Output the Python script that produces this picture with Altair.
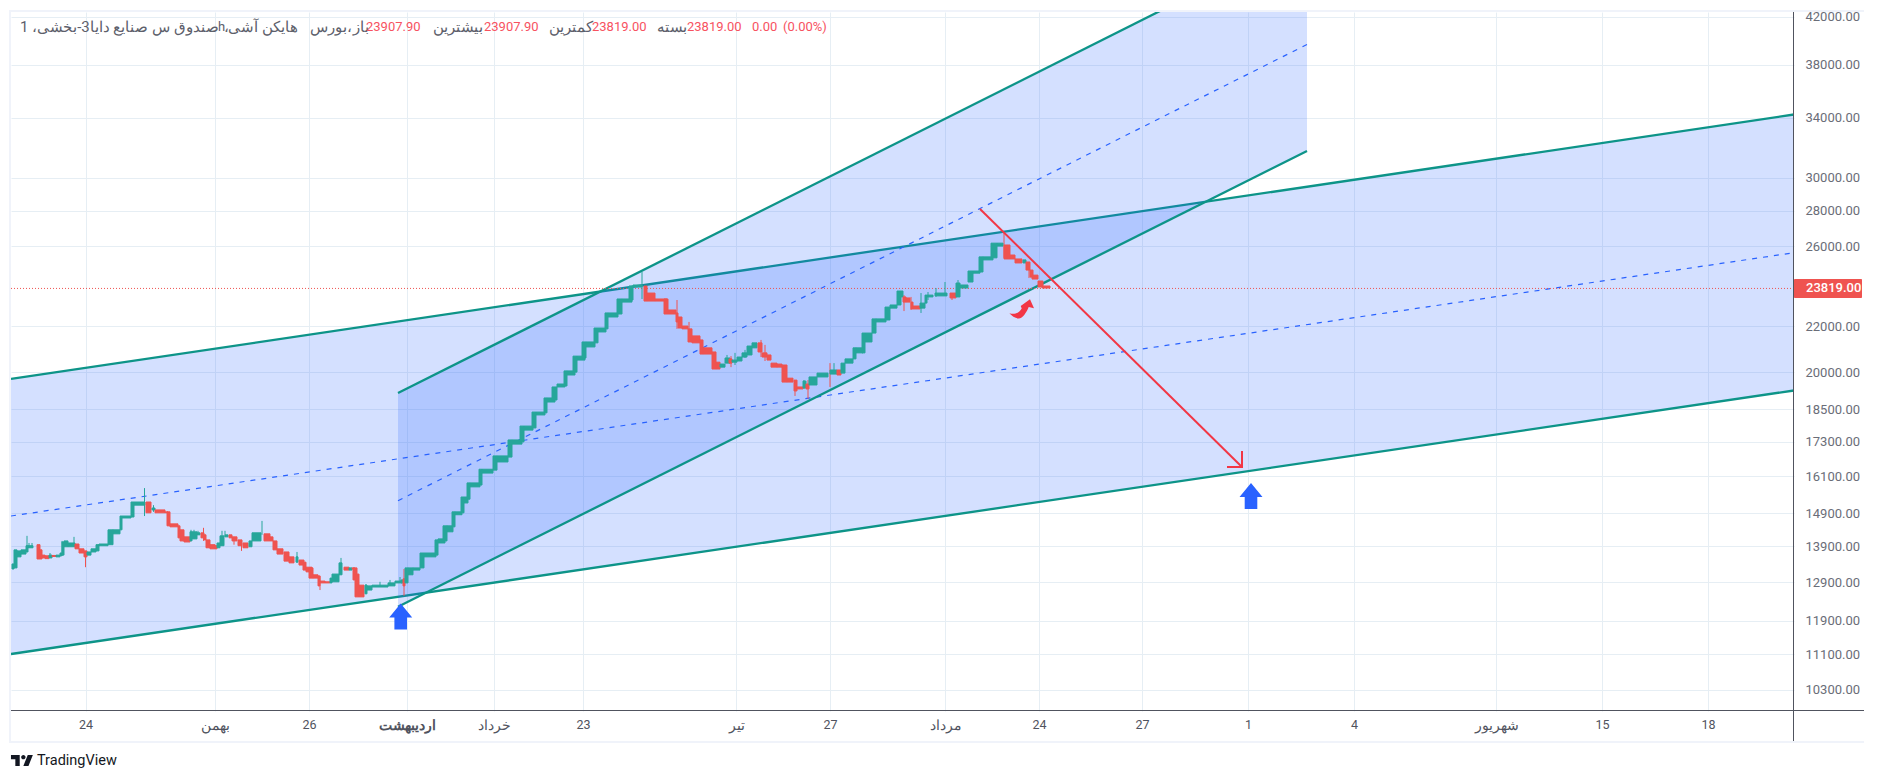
import json
import altair as alt
import pandas as pd

# (bar start, bar end, open, close)
candles = [
(12,14,13260,13400),(14,17,13290,13800),(17,21,13600,13770),(21,26,13680,13800),(26,28,13740,13920),(28,33,13860,13920),
(37,40,13950,13540),(40,42,13800,13540),(42,45,13650,13570),(45,49,13630,13550),(49,52,13570,13650),(52,56,13640,13610),
(56,60,13600,13650),(60,62,13630,13710),(62,64,13650,14030),(64,68,13890,14060),(68,75,13890,14000),(75,79,13970,13830),
(79,84,13830,13710),(84,87,13770,13600),(87,91,13650,13740),(91,96,13740,13830),(96,99,13770,13950),(99,108,13920,13970),
(108,113,13950,14390),(113,120,14270,14390),(120,122,14390,14810),(122,131,14750,14810),(131,134,14780,15250),(134,145,15150,15250),
(146,151,15250,14910),(152,155,15000,15060),(155,165,15000,14910),(165,168,14940,14910),(167,170,14940,14510),(170,178,14570,14480),
(178,180,14510,14150),(180,184,14390,14060),(184,190,14180,14030),(190,192,14060,14330),(192,197,14120,14330),(197,200,14240,14300),
(201,204,14300,14150),(204,206,14240,14090),(206,210,14090,13860),(210,215,13950,13830),(215,217,13920,13830),(217,220,13860,14000),
(220,224,13920,14210),(225,228,14180,14240),(229,232,14240,14150),(232,237,14180,14060),(238,242,14090,13920),(243,248,14000,13860),
(249,252,13890,14060),(252,261,14060,14300),(264,270,14270,14060),(270,273,14180,14060),(273,277,14060,13800),(277,283,13830,13680),
(284,289,13740,13480),(289,294,13600,13430),(296,298,13450,13600),(299,304,13510,13370),(303,306,13450,13230),(306,312,13310,13180),
(309,313,13290,13010),(313,318,13100,13010),(318,320,13070,12800),(320,325,12930,12880),(325,330,12910,12880),(330,332,12880,13010),
(332,339,12910,13120),(339,342,13100,13430),(344,349,13310,13230),(349,352,13230,13290),(352,355,13290,13260),(353,357,13290,12960),
(355,359,13120,12510),(359,364,12820,12510),(365,367,12590,12820),(367,372,12690,12800),(372,388,12770,12820),(388,395,12800,12880),
(395,402,12880,12930),(401,403,12880,12960),(403,405,12990,12800),(405,408,12880,13290),
(408,413,13100,13290),(413,420,13230,13290),(420,424,13290,13710),(424,436,13600,13710),(435,438,13650,14090),(438,445,14000,14120),
(443,447,14060,14510),(447,453,14330,14510),(452,455,14480,14940),(455,462,14850,14940),(461,464,14910,15410),(464,468,15220,15410),
(467,470,15340,15870),(470,480,15740,15870),(479,482,15800,16330),(482,493,16200,16330),(493,497,16300,16790),(497,508,16580,16790),
(508,512,16750,17360),(512,522,17210,17360),(520,524,17290,17870),(524,533,17720,17870),(532,536,17800,18400),(536,545,18290,18400),
(544,547,18370,18950),(547,555,18790,18950),(552,557,18870,19390),(557,565,19390,19510),(564,567,19430,20050),(567,575,19880,20050),
(573,577,20000,20680),(577,585,20510,20680),(582,586,20600,21300),(586,595,21080,21300),(594,598,21260,21930),(598,606,21750,21930),
(605,608,21890,22630),(608,618,22440,22630),(617,622,22580,23300),(622,632,23150,23300),(629,633,23250,23940),(633,642,23890,23990),
(644,647,23940,23200),(647,655,23590,23200),(655,667,23300,23200),(664,668,23300,22580),(668,676,22770,22580),(676,678,22630,22210),
(678,682,22440,21930),(682,688,22020,21890),(688,692,21890,21300),(692,700,21570,21260),(700,703,21390,20770),(703,712,21040,20770),
(712,716,20860,20130),(716,720,20420,20130),(720,725,20210,20340),(725,730,20380,20600),(729,732,20560,20380),(732,737,20420,20510),
(737,742,20470,20640),(742,747,20640,20820),(747,752,20730,21120),(752,757,21040,21260),(758,762,21260,20860),(762,767,20820,20640),
(767,771,20730,20510),(771,777,20380,20210),(777,782,20340,20210),(782,787,20300,19590),(787,793,19750,19590),(794,797,19670,19230),
(797,803,19390,19310),(803,806,19350,19630),(806,809,19510,19310),(809,817,19470,19800),(817,828,19800,19960),(830,837,19920,20090),
(837,841,20090,19880),(841,845,19960,20380),(845,853,20380,20560),(853,856,20560,21040),(856,863,20820,21040),(862,865,20820,21700),
(865,872,21300,21700),(872,876,21700,22350),(876,886,22210,22350),(885,890,22300,22910),(890,897,22860,23010),(897,901,23010,23690),
(901,903,23400,23690),(903,906,23400,23150),(906,910,23350,23150),(911,913,23150,22820),(913,920,22960,22820),(920,925,22860,23100),
(925,927,23100,23490),(927,933,23400,23490),(935,947,23450,23590),(950,956,23590,23350),(956,960,23400,24090),(960,968,23840,23990),
(968,973,24140,24700),(973,980,24590,24700),(979,983,24650,25440),(983,993,25280,25440),(991,997,25390,26180),(997,1003,26020,26180),
(1004,1007,26080,25330),(1007,1010,26080,25330),(1010,1015,25540,25330),(1015,1022,25330,25120),(1023,1026,25120,25280),(1026,1030,25170,24750),
(1030,1033,24750,24390),(1032,1038,24490,24290),(1038,1043,24190,23890),(1042,1050,23940,23840),
]

# (bar position, low, high)
wicks_up = [
(27,13740,14210),(29,13860,14000),(32,13860,14000),(50,13570,13710),(62,13630,14060),(74,13890,14180),(144.5,14810,15700),
(153.5,14940,15150),(191,14060,14390),(194,14120,14390),(198,14240,14360),(222,13920,14360),(225,14180,14360),(262,14240,14660),
(297,13450,13740),(341,13370,13570),(366,12590,12850),(380,12770,12910),(390,12800,12960),(400,12880,13040),(642,23300,24650),
(727,20380,20730),(735,20300,20820),(745,20600,20950),(804,19310,19670),(834,19920,20380),(921,22630,23590),(928,23250,23640),
(936,23400,23840),(945,23450,24140),(958,23400,24240),
]
wicks_down = [
(39,13540,13950),(85.5,13310,13770),(203.5,14060,14450),(234,13950,14180),(241.5,13770,14090),(320,12690,13070),(404,12540,13260),
(677,21890,23250),(689,21300,22210),(731,20210,20680),(761,20640,21390),(765,20470,21170),(795,19030,19670),(808,18920,19670),
(830,19390,20380),(904,22720,23490),(911,22770,23400),(952,23250,23590),(1004,25390,26800),(1029,24340,25170),
]

wide_x = [11, 1794]
wide_upper = [19716, 34247]
wide_lower = [11104, 19249]
wide_mid = [14811, 25664]

steep_x = [398, 1307]
steep_upper = [19148, 49575]
steep_lower = [12256, 31735]
steep_mid = [15293, 39636]

arrow_x = [980, 1242, 1242, 1242, 1227]
arrow_price = [28116, 16407, 16964, 16407, 16407]
arrow_part = [0, 0, 1, 1, 1]

blue_arrow_x = [400.7, 1251]
blue_arrow_price = [12008, 15443]
turn_arrow_x = [1021.7]
turn_arrow_price = [22819]

last_price = 23819
y_ticks = [42000, 38000, 34000, 30000, 28000, 26000, 22000, 20000, 18500, 17300, 16100, 14900, 13900, 12900, 11900, 11100, 10300]
x_ticks = [85.5, 215, 309, 406.5, 494, 583, 736, 830, 945, 1039, 1142, 1248, 1354, 1496, 1602, 1708]
x_labels = ["24", "بهمن", "26", "اردیبهشت", "خرداد", "23", "تیر", "27", "مرداد", "24", "27", "1", "4", "شهریور", "15", "18"]
month_ticks = [215, 406.5, 494, 736, 945, 1496]

header_text = ["صندوق س صنایع دایا3-بخشی، 1", "h", "،", "هایکن آشی", "بورس،", "باز", "23907.90", "بیشترین", "23907.90", "کمترین", "23819.00", "بسته", "23819.00", "0.00", "(0.00%)"]
header_left = [20, 218, 224, 228, 310, 353, 366, 433, 484, 549, 592, 657, 687, 752, 783]
header_kind = ["a", "g", "a", "a", "a", "a", "r", "a", "r", "a", "r", "a", "r", "r", "r"]

TEAL = "#26a69a"
RED = "#ef5350"
LINE = "#0d9488"
BLUE = "#2962ff"
GRID = "#e6eef4"
AXIS = "#50535e"
FONT = "Roboto"
ARROW_PATH = "M0,-13 L11.5,1 L6.3,1 L6.3,13 L-6.3,13 L-6.3,1 L-11.5,1 Z"
TURN_PATH = "M8.3,-9.7 L12.3,-0.7 L7,-2 C5,3 1,9.5 -3,9.5 C-6,9.5 -10,7 -12.3,4.3 C-8,5.5 -3,5 0,-0.5 L-1,-3 Z"
LOGO_PATH = "M14 6 H2 v6 h6 v9 h6 V6 z M26 21 h-7 l6 -15 h7 l-6 15 z M19 12 a3 3 0 1 0 0 -6 a3 3 0 0 0 0 6 z"

W, H = 1783, 699
xs = alt.Scale(domain=[11, 1794], nice=False, zero=False)
ys = alt.Scale(type="log", domain=[9858, 42418], nice=False)

label_map = json.dumps({str(k): v for k, v in zip(x_ticks, x_labels)}, ensure_ascii=False)
month_test = f"indexof({json.dumps(month_ticks)}, datum.value) >= 0"
x_axis = alt.Axis(
    values=x_ticks, labelExpr=f"{label_map}[datum.value]", title=None, grid=True, gridColor=GRID,
    gridWidth=1, domain=False, ticks=False, labelPadding=7, labelFont=FONT,
    labelFontSize={"condition": {"test": month_test, "value": 14}, "value": 12.5},
    labelColor=AXIS, labelOverlap=False, labelFlush=False,
    labelFontWeight={"condition": {"test": "datum.value == 406.5", "value": "bold"}, "value": "normal"})
y_axis = alt.Axis(
    orient="right", values=y_ticks, format=".2f", title=None, grid=True, gridColor=GRID, gridWidth=1,
    domain=False, ticks=False, labelPadding=11, labelFont=FONT, labelFontSize=13, labelColor="#6a6d78",
    labelOverlap=False, labelFlush=False)

X = lambda f: alt.X(f, type="quantitative", scale=xs, axis=x_axis)
Y = lambda f: alt.Y(f, type="quantitative", scale=ys, axis=y_axis)

cd = pd.DataFrame(candles, columns=["l", "r", "open", "close"])
wu = pd.DataFrame(wicks_up, columns=["x", "low", "high"])
wd = pd.DataFrame(wicks_down, columns=["x", "low", "high"])
wide = pd.DataFrame({"x": wide_x, "up": wide_upper, "lo": wide_lower, "mid": wide_mid})
steep = pd.DataFrame({"x": steep_x, "up": steep_upper, "lo": steep_lower, "mid": steep_mid})
arrow = pd.DataFrame({"x": arrow_x, "p": arrow_price, "part": arrow_part, "i": range(5)})
blue = pd.DataFrame({"x": blue_arrow_x, "p": blue_arrow_price})
turn = pd.DataFrame({"x": turn_arrow_x, "p": turn_arrow_price})
last = pd.DataFrame({"x": [11], "x2": [1794], "p": [last_price], "t": ["23819.00"]})
head = pd.DataFrame({"t": header_text, "l": header_left, "k": header_kind})
one = pd.DataFrame({"a": [0]})


def channel(df):
    area = alt.Chart(df).mark_area(color=BLUE, opacity=0.2, clip=True, line=False).encode(x=X("x"), y=Y("up"), y2="lo")
    up = alt.Chart(df).mark_line(color=LINE, strokeWidth=2.3, clip=True).encode(x=X("x"), y=Y("up"))
    lo = alt.Chart(df).mark_line(color=LINE, strokeWidth=2.3, clip=True).encode(x=X("x"), y=Y("lo"))
    mid = alt.Chart(df).mark_line(color=BLUE, strokeWidth=1.2, strokeDash=[5, 6], clip=True).encode(x=X("x"), y=Y("mid"))
    return [area, mid, up, lo]


price_line = alt.Chart(last).mark_rule(color=RED, strokeWidth=1, strokeDash=[1, 2]).encode(x=X("x"), x2="x2", y=Y("p"))
wick_up = alt.Chart(wu).mark_rule(color=TEAL, strokeWidth=1).encode(x=X("x"), y=Y("low"), y2="high")
wick_dn = alt.Chart(wd).mark_rule(color=RED, strokeWidth=1).encode(x=X("x"), y=Y("low"), y2="high")
body_cond = lambda: alt.condition("datum.close >= datum.open", alt.value(TEAL), alt.value(RED))
bodies = alt.Chart(cd).mark_rect(strokeWidth=1).encode(
    x=X("l"), x2="r", y=Y("open"), y2="close", color=body_cond(), stroke=body_cond(),
)
red_arrow = alt.Chart(arrow).mark_line(color="#f23645", strokeWidth=2).encode(
    x=X("x"), y=Y("p"), detail="part:N", order="i:Q")
blue_marks = alt.Chart(blue).mark_point(shape=ARROW_PATH, filled=True, size=4, color=BLUE, opacity=1).encode(x=X("x"), y=Y("p"))
turn_mark = alt.Chart(turn).mark_point(shape=TURN_PATH, filled=True, size=4, color="#f23645", opacity=1).encode(x=X("x"), y=Y("p"))

frame = alt.Chart(one).mark_rect(fillOpacity=0, stroke="#f0f3fa", strokeWidth=2).encode(
    x=alt.value(-1), x2=alt.value(1857), y=alt.value(-1), y2=alt.value(730))
bottom_rule = alt.Chart(one).mark_rule(color=AXIS, strokeWidth=1).encode(
    x=alt.value(0), x2=alt.value(1857), y=alt.value(H - 0.5))
right_rule = alt.Chart(one).mark_rule(color=AXIS, strokeWidth=1).encode(
    x=alt.value(W - 0.5), y=alt.value(0), y2=alt.value(729))
tag = alt.Chart(last).mark_rect(color=RED, cornerRadius=1).encode(
    x=alt.value(W), x2=alt.value(1851), y=alt.value(267), y2=alt.value(286))
tag_text = alt.Chart(last).mark_text(color="white", font=FONT, fontSize=13, fontWeight=500, align="left", baseline="middle").encode(
    x=alt.value(1795), y=Y("p"), text="t:N")
header = alt.Chart(head).mark_text(font=FONT, align="left", baseline="middle").encode(
    x=X("l"), y=alt.value(15), text="t:N",
    size=alt.condition("datum.k == 'a'", alt.value(15), alt.value(13)),
    color=alt.condition("datum.k == 'r'", alt.value("#f7525f"), alt.value("#5d606b")),
)
logo = alt.Chart(one).mark_point(shape=LOGO_PATH, filled=True, size=2.13, color="#131722", opacity=1).encode(
    x=alt.value(-1.5), y=alt.value(738.6))
brand = alt.Chart(pd.DataFrame({"t": ["TradingView"]})).mark_text(
    font=FONT, fontSize=14.5, color="#131722", align="left", baseline="middle").encode(
    x=alt.value(26), y=alt.value(749), text="t:N")

chart = alt.layer(
    *channel(wide), *channel(steep), price_line, wick_up, wick_dn, bodies, red_arrow, blue_marks, turn_mark,
    frame, bottom_rule, right_rule, tag, tag_text, header, logo, brand,
).properties(
    width=W, height=H, background="white",
    autosize=alt.AutoSizeParams(type="none"),
    padding={"left": 3, "top": 4, "right": 70, "bottom": 62},
).configure_view(stroke=None)

chart.save("out.html", embed_options={"renderer": "svg", "actions": False})
